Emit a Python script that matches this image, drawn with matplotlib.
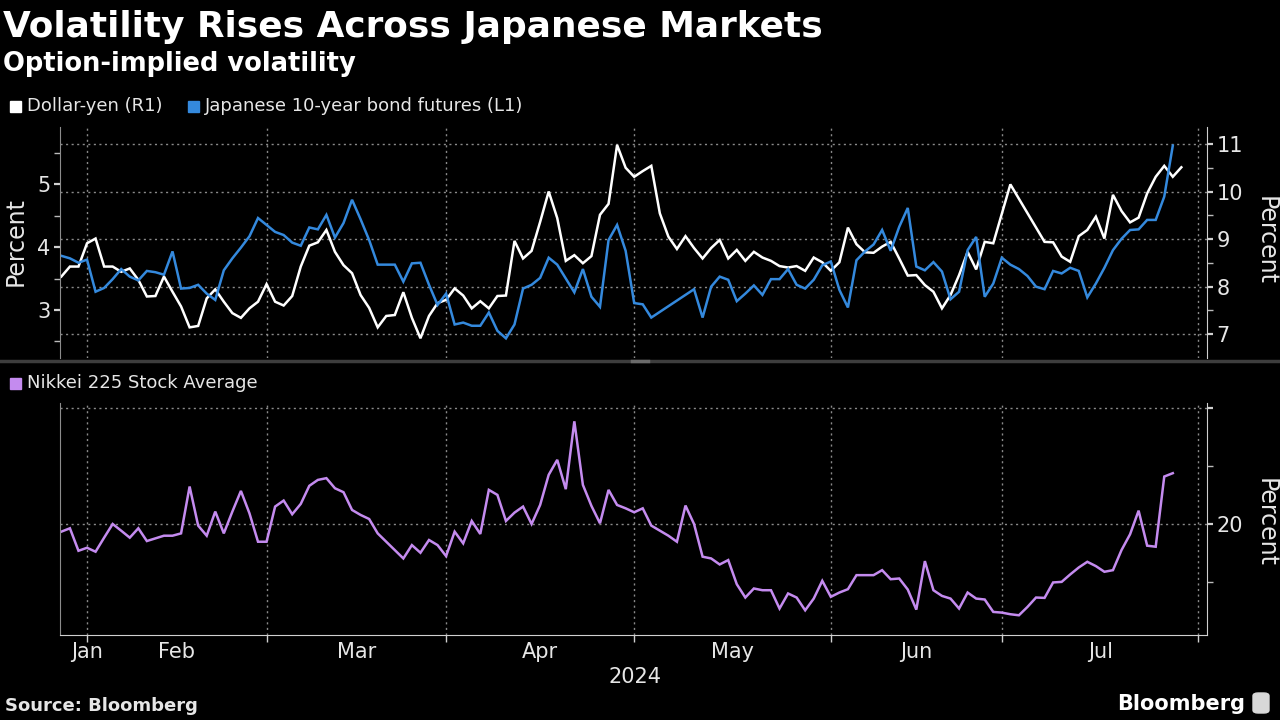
import numpy as np
import pandas as pd
import matplotlib.pyplot as plt
from matplotlib.patches import Rectangle, FancyBboxPatch
from matplotlib.lines import Line2D

plt.rcParams['font.family'] = ['DejaVu Sans']

# option-implied volatility, one value per weekday from 2024-01-29
# (None = no print, line is drawn straight across)
usdjpy_vol = [
    8.21, 8.42, 8.42, 8.91, 9.01, 8.42, 8.42, 8.31, 8.38, 8.14,
    7.79, 7.80, 8.21, 7.89, 7.58, 7.14, 7.17, 7.75, 7.94, 7.68,
    7.44, 7.34, 7.54, 7.68, 8.05, 7.68, 7.60, 7.80, 8.42, 8.86,
    8.93, 9.19, 8.73, 8.45, 8.28, 7.82, 7.55, 7.14, 7.38, 7.40,
    7.88, 7.34, 6.91, 7.38, 7.65, 7.72, 7.96, 7.81, 7.54, 7.69,
    7.54, 7.80, 7.81, 8.96, 8.59, 8.75, 9.36, 10.00, 9.44, 8.54,
    8.66, 8.49, 8.64, 9.51, 9.74, 10.98, 10.50, 10.31, 10.43, 10.54,
    9.54, 9.05, 8.79, 9.06, 8.81, 8.59, 8.81, 8.98, 8.59, 8.77,
    8.54, 8.73, 8.61, 8.54, 8.43, 8.40, 8.43, 8.33, 8.61, 8.51,
    8.33, 8.51, 9.24, 8.89, 8.72, 8.71, 8.84, 8.94, 8.59, 8.23,
    8.24, 8.03, 7.89, 7.54, 7.82, 8.24, 8.73, 8.36, 8.94, 8.91,
    9.53, 10.15, None, None, None, 8.94, 8.93, 8.63, 8.52, 9.06,
    9.19, 9.47, 9.01, 9.93, 9.59, 9.35, 9.45, 9.96, 10.31, 10.54,
    10.31, 10.51,
]

jgb_vol = [
    3.86, 3.82, 3.75, 3.80, 3.29, 3.35, 3.49, 3.65, 3.53, 3.47,
    3.62, 3.60, 3.56, 3.93, 3.34, 3.35, 3.40, 3.26, 3.16, 3.63,
    3.82, 3.99, 4.17, 4.46, 4.35, 4.24, 4.19, 4.07, 4.02, 4.31,
    4.28, 4.51, 4.15, 4.38, 4.75, 4.44, 4.11, 3.72, 3.72, 3.72,
    3.45, 3.74, 3.75, 3.40, 3.08, 3.26, 2.77, 2.80, 2.75, 2.75,
    2.96, 2.67, 2.55, 2.77, 3.34, 3.40, 3.51, 3.83, 3.72, 3.50,
    3.28, 3.65, 3.21, 3.05, 4.11, 4.35, 3.94, 3.11, 3.09, 2.88,
    None, None, None, None, 3.33, 2.88, 3.37, 3.53, 3.48, 3.14,
    3.26, 3.39, 3.24, 3.49, 3.49, 3.65, 3.40, 3.34, 3.48, 3.71,
    3.77, 3.32, 3.04, 3.79, 3.93, 4.04, 4.27, 3.94, 4.32, 4.62,
    3.69, 3.63, 3.76, 3.61, 3.17, 3.29, 3.95, 4.16, 3.21, 3.42,
    3.83, 3.72, 3.65, 3.54, 3.37, 3.33, 3.62, 3.58, 3.67, 3.62,
    3.20, 3.42, 3.67, 3.95, 4.13, 4.27, 4.28, 4.43, 4.43, 4.80,
    5.61,
]

nikkei_vol = [
    19.34, 19.63, 17.69, 17.95, 17.61, 18.82, 20.00, 19.42, 18.82, 19.63,
    18.53, 18.76, 18.99, 18.99, 19.19, 23.23, 19.86, 18.99, 21.07, 19.19,
    21.07, 22.85, 20.92, 18.47, 18.47, 21.50, 22.02, 20.84, 21.73, 23.29,
    23.80, 23.95, 23.08, 22.74, 21.21, 20.78, 20.43, 19.19, 18.47, 17.75,
    17.03, 18.18, 17.52, 18.62, 18.18, 17.23, 19.34, 18.33, 20.26, 19.14,
    22.94, 22.51, 20.26, 20.98, 21.50, 20.00, 21.64, 24.24, 25.53, 23.00,
    28.85, 23.37, 21.56, 20.06, 22.94, 21.64, 21.35, 21.01, 21.35, 19.86,
    19.42, 18.99, 18.47, 21.59, 20.00, 17.18, 17.03, 16.51, 16.89, 14.81,
    13.66, 14.44, 14.29, 14.29, 12.71, 14.01, 13.66, 12.56, 13.57, 15.10,
    13.72, 14.09, 14.38, 15.59, 15.59, 15.59, 16.02, 15.24, 15.30, 14.35,
    12.62, 16.80, 14.29, 13.80, 13.57, 12.71, 14.09, 13.57, 13.49, 12.42,
    12.36, 12.22, 12.13, 12.85, 13.66, 13.63, 14.96, 15.01, 15.65, 16.25,
    16.74, 16.37, 15.88, 16.02, 17.75, 19.11, 21.15, 18.13, 18.04, 24.09,
    24.38,
]

month_labels = ["Jan", "Feb", "Mar", "Apr", "May", "Jun", "Jul"]

WHITE = "#ffffff"
BLUE = "#3489dd"
PURPLE = "#c48bef"
TXT = "#e6e6e6"
GRID = "#8a8a8a"

# weekday axis
days = pd.bdate_range("2024-01-29", "2024-08-02")
month_starts = [int(np.searchsorted(days, pd.Timestamp(2024, m, 1))) for m in range(2, 9)]
label_pos = [month_starts[0]] + [(a + b) / 2 for a, b in zip(month_starts[:-1], month_starts[1:])]


def series(values):
    y = np.array([np.nan if v is None else v for v in values], dtype=float)
    x = np.arange(len(y))
    ok = ~np.isnan(y)
    return x[ok], y[ok]


def fx(px):
    return px / 1280


def fy(py):
    return 1 - py / 720


fig = plt.figure(figsize=(12.8, 7.2), dpi=100, facecolor="black")

ax_w = fig.add_axes([fx(60), fy(358), fx(1147), 231 / 720])
ax_b = ax_w.twinx()
ax_n = fig.add_axes([fx(60), fy(635), fx(1147), 232 / 720])

for ax in (ax_w, ax_b, ax_n):
    ax.set_facecolor("none")
    ax.set_xlim(-0.16, 134)
    for s in ax.spines.values():
        s.set_visible(False)
ax_w.set_facecolor("black")
ax_n.set_facecolor("black")

# ---- top panel
xw, yw = series(usdjpy_vol)
xb, yb = series(jgb_vol)
ax_w.plot(xw, yw, color=WHITE, lw=1.8, solid_joinstyle="miter")
ax_b.plot(xb, yb, color=BLUE, lw=1.8, solid_joinstyle="miter")

ax_w.set_ylim(6.495, 11.358)
ax_b.set_ylim(2.238, 5.905)

ax_w.yaxis.tick_right()
ax_w.set_yticks([7, 8, 9, 10, 11])
ax_w.set_yticks(np.arange(7.5, 11.5, 1.0), minor=True)
ax_b.yaxis.tick_left()
ax_b.set_yticks([3, 4, 5])
ax_b.set_yticks([2.5, 3.5, 4.5, 5.5], minor=True)

ax_w.spines["right"].set_visible(True)
ax_w.spines["right"].set_color("#cfcfcf")
ax_b.spines["left"].set_visible(True)
ax_b.spines["left"].set_color("#8c8c8c")

# ---- bottom panel
xn, yn = series(nikkei_vol)
ax_n.plot(xn, yn, color=PURPLE, lw=1.8, solid_joinstyle="miter")
ax_n.set_ylim(10.43, 30.43)
ax_n.yaxis.tick_right()
ax_n.set_yticks([20, 30], labels=["20", ""])
ax_n.set_yticks([15, 25], minor=True)
ax_n.spines["right"].set_visible(True)
ax_n.spines["right"].set_color("#cfcfcf")
ax_n.spines["left"].set_visible(True)
ax_n.spines["left"].set_color("#8c8c8c")
ax_n.spines["bottom"].set_visible(True)
ax_n.spines["bottom"].set_color("#d0d0d0")

# x axis: ticks at month starts, labels mid-month
ax_n.xaxis.remove_overlapping_locs = False
for ax in (ax_w, ax_b, ax_n):
    ax.set_xticks(month_starts)
    ax.set_xticks(label_pos, minor=True)
ax_w.tick_params(axis="x", which="both", bottom=False, labelbottom=False)
ax_b.tick_params(axis="x", which="both", bottom=False, labelbottom=False)
ax_n.set_xticklabels([])
ax_n.set_xticklabels(month_labels, minor=True)
ax_n.tick_params(axis="x", which="major", direction="out", length=5, width=1,
                 color="#d0d0d0")
ax_n.tick_params(axis="x", which="minor", length=0, pad=5, labelsize=15,
                 labelcolor=TXT)

for ax in (ax_w, ax_b, ax_n):
    ax.tick_params(axis="y", which="major", direction="out", length=4, width=1.6,
                   color="#d0d0d0", labelsize=15, labelcolor=TXT, pad=3)
    ax.tick_params(axis="y", which="minor", direction="out", length=4, width=1,
                   color="#bbbbbb")

# dotted grid
ax_w.grid(True, which="major", axis="both", color=GRID, ls=(0, (1.5, 2.5)), lw=1)
ax_n.grid(True, which="major", axis="both", color=GRID, ls=(0, (1.5, 2.5)), lw=1)
ax_w.set_axisbelow(True)
ax_n.set_axisbelow(True)

# panel separator
fig.add_artist(Line2D([0, 1], [fy(361), fy(361)], color="#3d3d3d", lw=2.5))
fig.add_artist(Line2D([fx(632), fx(648)], [fy(361), fy(361)], color="#6a6a6a", lw=2.5))

# ---- titles and legends
fig.text(fx(3), fy(27), "Volatility Rises Across Japanese Markets", color="white",
         fontsize=25.8, fontweight="bold", va="center", ha="left")
fig.text(fx(3), fy(64), "Option-implied volatility", color="white",
         fontsize=18.5, fontweight="bold", va="center", ha="left")


def legend_item(x, y, color, label):
    fig.add_artist(Rectangle((fx(x), fy(y + 6)), fx(11), 11 / 720, color=color,
                             transform=fig.transFigure))
    fig.text(fx(x + 17), fy(y), label, color=TXT, fontsize=13, va="center", ha="left")


legend_item(10, 106, WHITE, "Dollar-yen (R1)")
legend_item(188, 106, BLUE, "Japanese 10-year bond futures (L1)")
legend_item(10, 383, PURPLE, "Nikkei 225 Stock Average")

fig.text(fx(16), fy(242), "Percent", color=TXT, fontsize=17, rotation=90,
         va="center", ha="center")
fig.text(fx(1266), fy(240), "Percent", color=TXT, fontsize=17, rotation=-90,
         va="center", ha="center")
fig.text(fx(1266), fy(522), "Percent", color=TXT, fontsize=17, rotation=-90,
         va="center", ha="center")
fig.text(fx(635), fy(677), "2024", color=TXT, fontsize=15, va="center", ha="center")

fig.text(fx(5), fy(706), "Source: Bloomberg", color=TXT, fontsize=13,
         fontweight="bold", va="center", ha="left")
fig.text(fx(1245), fy(704), "Bloomberg", color="white", fontsize=15,
         fontweight="bold", va="center", ha="right")
fig.add_artist(FancyBboxPatch((fx(1253), fy(713)), fx(16), 20 / 720,
                              boxstyle="round,pad=0,rounding_size=0.004",
                              color="#d8d8d8", transform=fig.transFigure))

fig.savefig("out.png", dpi=100, facecolor="black")
